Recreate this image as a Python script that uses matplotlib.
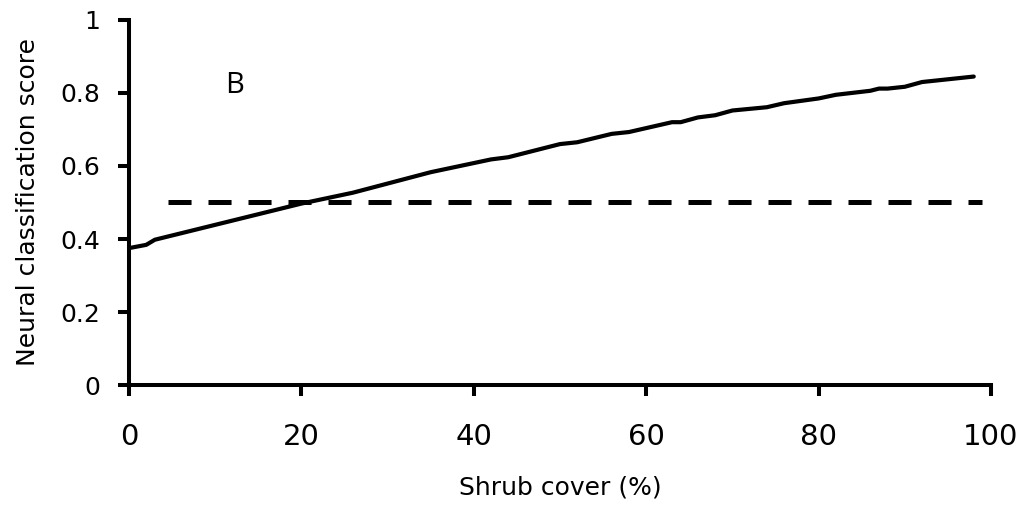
import matplotlib
matplotlib.use("Agg")
import matplotlib.pyplot as plt

# shrub cover (%) vs neural classification score
shrub_cover = [0, 2, 3, 20, 26, 35, 42, 44, 50, 52, 56, 58, 63, 64, 66, 68,
               70, 74, 76, 80, 82, 86, 87, 88, 90, 92, 98]
score = [0.375, 0.384, 0.398, 0.497, 0.527, 0.583, 0.618, 0.624, 0.660, 0.665,
         0.688, 0.693, 0.720, 0.720, 0.733, 0.739, 0.752, 0.761, 0.772, 0.785,
         0.795, 0.806, 0.812, 0.812, 0.817, 0.830, 0.845]

# decision threshold (dashed line)
threshold = 0.5
threshold_x = [4.5, 98.9]

xticks = [0, 20, 40, 60, 80, 100]
yticks = [0, 0.2, 0.4, 0.6, 0.8, 1]
ytick_labels = ["0", "0.2", "0.4", "0.6", "0.8", "1"]

plt.rcParams["font.family"] = "DejaVu Sans"
plt.rcParams["lines.scale_dashes"] = False

fig = plt.figure(figsize=(10.31, 5.12), dpi=100)
ax = fig.add_axes([0.1251, 0.248, 0.8361, 0.713])

ax.plot(shrub_cover, score, color="black", linewidth=3.0,
        solid_joinstyle="round", solid_capstyle="round", clip_on=False)
ax.plot(threshold_x, [threshold, threshold], color="black", linewidth=3.6,
        linestyle=(0, (16.6, 12.2)), dash_capstyle="butt")

ax.set_xlim(0, 100)
ax.set_ylim(0, 1)
ax.set_xticks(xticks)
ax.set_xticklabels([str(t) for t in xticks], fontsize=21)
ax.set_yticks(yticks)
ax.set_yticklabels(ytick_labels, fontsize=18)

for side in ["top", "right"]:
    ax.spines[side].set_visible(False)
for side in ["left", "bottom"]:
    ax.spines[side].set_linewidth(2.9)
    ax.spines[side].set_capstyle("projecting")

ax.tick_params(axis="both", direction="out", length=8, width=2.9, color="black")
ax.tick_params(axis="x", pad=19)
ax.tick_params(axis="y", pad=13)

ax.set_xlabel("Shrub cover (%)", fontsize=18, labelpad=18)
ax.set_ylabel("Neural classification score", fontsize=18, labelpad=14)

ax.text(12.2, 0.82, "B", fontsize=21, family="Open Sans",
        ha="center", va="center")

fig.savefig("out.png", dpi=100)
